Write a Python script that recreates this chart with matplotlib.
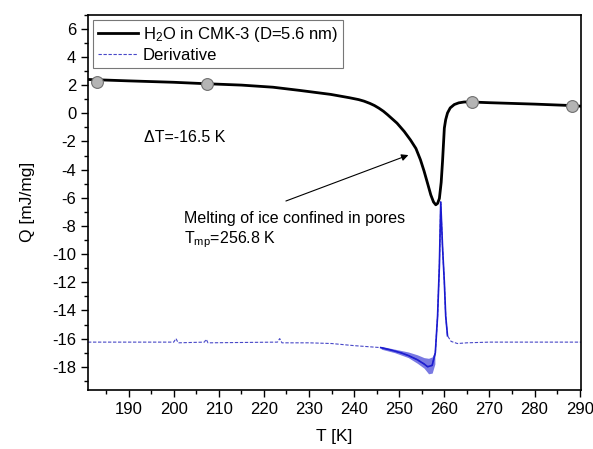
import numpy as np
import matplotlib
matplotlib.use("Agg")
import matplotlib.pyplot as plt
from matplotlib.ticker import MultipleLocator

plt.rcParams['font.family'] = ['Liberation Sans', 'DejaVu Sans']
plt.rcParams['axes.unicode_minus'] = False
plt.rcParams['mathtext.default'] = 'regular'

# heat flow of water in CMK-3 (black curve)
t_q = [181, 190, 200, 207, 215, 222, 228, 234.8, 239, 241, 242.2, 243.5,
       244.5, 245.5, 246.5, 247.4, 249.5, 251.1, 252.5, 253.7, 254.7, 255.5,
       256.3, 257.0, 257.6, 258.1, 258.5, 258.9, 259.3, 259.6, 260.0, 260.3,
       260.7, 261.3, 262.2, 263.2, 264.4, 266, 270, 280, 288, 290.3]
q = [2.4, 2.3, 2.2, 2.1, 2.0, 1.85, 1.62, 1.34, 1.1, 0.97, 0.86, 0.7,
     0.55, 0.36, 0.14, -0.1, -0.7, -1.29, -1.9, -2.5, -3.3, -4.1,
     -5.0, -5.8, -6.3, -6.5, -6.4, -6.05, -4.9, -3.4, -1.05, -0.45,
     0.02, 0.38, 0.62, 0.74, 0.8, 0.8, 0.75, 0.65, 0.55, 0.5]

# grey circle markers sitting on the curve
t_mark = [183, 207.4, 266.1, 288.3]
q_mark = [2.25, 2.1, 0.8, 0.55]

# derivative trace (blue), shifted down
t_d = [181, 200, 200.5, 201, 206.8, 207.2, 207.6, 223, 223.5, 224, 230, 235,
       240, 245.9, 248, 250.3, 252, 254, 255.5, 256.3, 257.3, 258.0, 258.5,
       258.9, 259.2, 259.6, 260.0, 260.3, 260.7, 261.5, 262.9, 265, 270, 290.3]
d = [-16.25, -16.25, -16.0, -16.3, -16.25, -16.05, -16.3, -16.25, -16.0, -16.3,
     -16.3, -16.35, -16.5, -16.64, -16.8, -17.0, -17.2, -17.5, -17.8, -18.0,
     -17.9, -17.0, -14.4, -10.8, -6.3, -9.5, -12.0, -14.4, -15.8, -16.2,
     -16.35, -16.3, -16.25, -16.25]

# spread of the noisy part of the derivative
t_band = [246, 249, 252, 254, 255.5, 256.5, 257.3, 257.9]
band_hi = [-16.55, -16.75, -16.95, -17.15, -17.35, -17.4, -17.3, -16.9]
band_lo = [-16.75, -17.0, -17.35, -17.75, -18.1, -18.5, -18.45, -17.8]

fig = plt.figure(figsize=(5.93, 4.49), dpi=100)
ax = fig.add_axes([0.1484, 0.1314, 0.8314, 0.8359])

ax.plot(t_q, q, color='black', lw=2.0, label='H$_2$O in CMK-3 (D=5.6 nm)',
        zorder=3, solid_joinstyle='round')
ax.plot(t_mark, q_mark, 'o', ms=8.5, mfc='#b4b4b4', mec='#707070', mew=0.8, zorder=4)

t_d_arr = np.array(t_d)
d_arr = np.array(d)
ax.plot(t_d_arr, d_arr, color='#4848c8', lw=0.8, ls=(0, (3, 1.5)), label='Derivative', zorder=2)
act = (t_d_arr >= 245) & (t_d_arr <= 261)
ax.plot(t_d_arr[act], d_arr[act], color='#1a1ad0', lw=1.2, zorder=2)
ax.fill_between(t_band, band_lo, band_hi, color='#2020d0', alpha=0.6, lw=0, zorder=2)

ax.set_xlim(181, 290.3)
ax.set_ylim(-19.65, 7.0)
ax.xaxis.set_major_locator(MultipleLocator(10))
ax.xaxis.set_minor_locator(MultipleLocator(5))
ax.yaxis.set_major_locator(MultipleLocator(2))
ax.yaxis.set_minor_locator(MultipleLocator(1))
ax.tick_params(which='both', direction='out', top=False, right=False, labelsize=12)
ax.tick_params(which='major', length=5, width=1)
ax.tick_params(which='minor', length=3, width=1)
for s in ax.spines.values():
    s.set_linewidth(1.2)

ax.set_xlabel('T [K]', fontsize=12.5, labelpad=9)
ax.set_ylabel('Q [mJ/mg]', fontsize=12.5, labelpad=12)

ax.text(193.5, -1.7, 'ΔT=-16.5 K', fontsize=11.5, va='center')
ax.text(202.2, -7.5, 'Melting of ice confined in pores', fontsize=11.5, va='center')
ax.text(202.2, -9.0, 'T$_{mp}$=256.8 K', fontsize=11.5, va='center')
ax.annotate('', xy=(252.6, -2.9), xytext=(224.3, -6.3),
            arrowprops=dict(arrowstyle='-|>', color='black', lw=0.8, mutation_scale=10))

leg = ax.legend(loc='upper left', fontsize=12, frameon=True, fancybox=False,
                borderaxespad=0.3, handlelength=2.4, handletextpad=0.3,
                borderpad=0.3, labelspacing=0.25)
leg.get_frame().set_edgecolor('#555555')
leg.get_frame().set_linewidth(0.8)

fig.savefig('out.png', dpi=100)
